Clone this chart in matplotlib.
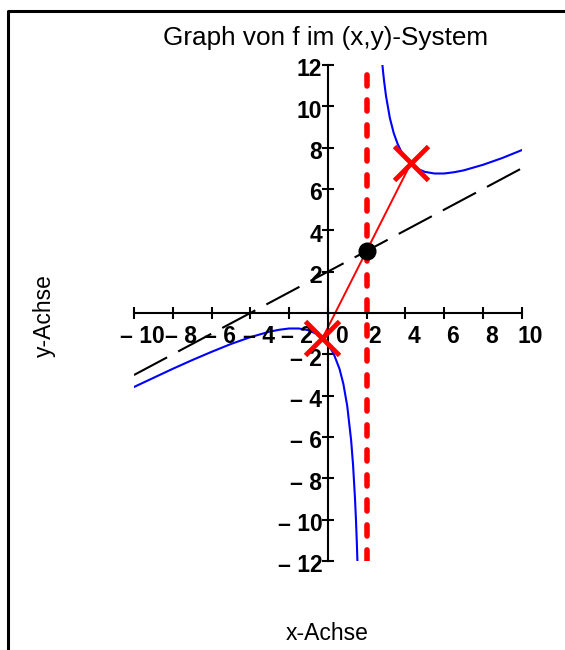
import matplotlib
matplotlib.use("Agg")
import matplotlib.pyplot as plt
from matplotlib.lines import Line2D

plt.rcParams['font.family'] = ['Liberation Sans', 'DejaVu Sans']

# graph of f (left and right branch)
left_x = [-10, -9, -8, -7, -6, -5, -4, -3, -2.5, -2, -1.5, -1, -0.5, 0, 0.3, 0.6, 0.8,
          1.0, 1.2, 1.3, 1.4, 1.45, 1.5, 1.53]
left_y = [-3.58, -3.14, -2.70, -2.28, -1.88, -1.50, -1.17, -0.90, -0.81, -0.75, -0.75,
          -0.83, -1.05, -1.50, -1.97, -2.70, -3.43, -4.50, -6.15, -7.35, -8.97, -10.0,
          -11.25, -12.13]
right_x = [2.8, 2.85, 2.9, 3.0, 3.2, 3.4, 3.6, 3.8, 4.0, 4.3, 4.6, 5.0, 5.5, 6.0, 6.5,
           7, 8, 9, 10]
right_y = [12.15, 11.66, 11.23, 10.5, 9.43, 8.70, 8.18, 7.79, 7.50, 7.19, 6.99, 6.83,
           6.75, 6.75, 6.81, 6.90, 7.17, 7.50, 7.88]

# oblique asymptote y = x/2 + 2, vertical asymptote x = 2
asym_x = [-10, 10]
asym_y = [-3, 7]
pole_x = [2, 2]
pole_y = [-12, 12]

# marked points
center = (2, 3)
cross_x = [-0.28, 4.28]
cross_y = [-1.22, 7.24]

xticks = [-10, -8, -6, -4, -2, 0, 2, 4, 6, 8, 10]
yticks = [-12, -10, -8, -6, -4, -2, 2, 4, 6, 8, 10, 12]


def lab(v):
    return ('\u2013 ' + str(-v)) if v < 0 else str(v)


fig = plt.figure(figsize=(5.65, 6.5), dpi=100)
ax = fig.add_axes([134 / 565, 89 / 650, 387.7 / 565, 496 / 650])
ax.set_xlim(-10, 10)
ax.set_ylim(-12, 12)

ax.plot(asym_x, asym_y, color='black', lw=1.5, dashes=(18, 6))
ax.plot(pole_x, pole_y, color='#ff0000', lw=4, dashes=(2.0, 2.5),
        dash_capstyle='round')
ax.plot(left_x, left_y, color='#0000ff', lw=1.5)
ax.plot(right_x, right_y, color='#0000ff', lw=1.5)
ax.plot(cross_x, cross_y, color='#ff0000', lw=1.4)
ax.plot(cross_x, cross_y, ls='none', marker='x', ms=25, mew=3.5, color='#ff0000',
        zorder=5)
ax.plot([center[0]], [center[1]], 'o', ms=12, color='black', zorder=6)

for s in ['top', 'right']:
    ax.spines[s].set_visible(False)
ax.spines['left'].set_position('zero')
ax.spines['bottom'].set_position('zero')
ax.spines['left'].set_linewidth(1.5)
ax.spines['bottom'].set_linewidth(1.5)
ax.set_xticks(xticks)
ax.set_yticks(yticks)
ax.set_xticklabels([])
ax.set_yticklabels([])
ax.tick_params(direction='inout', length=8, width=1.5)

for v in xticks:
    dx = 9.5 if v == 0 else 6
    ax.annotate(lab(v), (v, 0), xytext=(dx, -17), textcoords='offset points',
                ha='center', va='center', fontsize=16.5, fontweight='bold')
for v in yticks:
    ax.annotate(lab(v), (0, v), xytext=(-4, -3.5), textcoords='offset points',
                ha='right', va='center', fontsize=16.5, fontweight='bold')

fig.text(325.5 / 565, 1 - 38 / 650, 'Graph von f im (x,y)-System', ha='center',
         va='center', fontsize=18.8)
fig.text(327 / 565, 1 - 634 / 650, 'x-Achse', ha='center', va='center', fontsize=16.5)
fig.text(44 / 565, 1 - 316 / 650, 'y-Achse', ha='center', va='center', fontsize=16.5,
         rotation=90)

# frame of the plot window
fig.add_artist(Line2D([7.5 / 565, 7.5 / 565, 1], [0, 1 - 10.5 / 650, 1 - 10.5 / 650],
                      transform=fig.transFigure, color='black', lw=2.2))

fig.savefig('out.png', dpi=100)
